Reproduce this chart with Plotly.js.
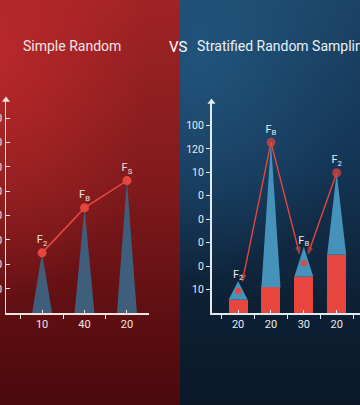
<!DOCTYPE html>
<html>
<head>
<meta charset="utf-8">
<script src="https://cdn.plot.ly/plotly-3.0.1.min.js"></script>
<style>
  html, body { margin: 0; padding: 0; width: 360px; height: 405px; overflow: hidden; }
  #wrap { position: relative; width: 360px; height: 405px; }
  #bgL { position: absolute; left: 0; top: 0; width: 180px; height: 405px;
    background:
      radial-gradient(ellipse 150px 240px at 0px 60px, rgba(205,45,45,0.6), rgba(205,45,45,0) 100%),
      linear-gradient(180deg, #a02326 0%, #811a1d 45%, #5c0e11 80%, #4a0a0c 100%); }
  #bgR { position: absolute; left: 180px; top: 0; width: 180px; height: 405px;
    background:
      radial-gradient(ellipse 160px 220px at 20px 60px, rgba(38,98,142,0.6), rgba(38,98,142,0) 100%),
      linear-gradient(180deg, #1b4466 0%, #153555 40%, #0d2034 75%, #0a1828 100%); }
  #chart { position: absolute; left: 0; top: 0; width: 360px; height: 405px; }
</style>
</head>
<body>
<div id="wrap">
  <div id="bgL"></div>
  <div id="bgR"></div>
  <div id="chart"></div>
</div>
<script>
// ---------- data ----------
const leftCats = ['10', '40', '20'];
const leftValues = [24.7, 43.2, 54.4];
const leftLabels = ['F<sub>2</sub>', 'F<sub>B</sub>', 'F<sub>S</sub>'];
const leftYTickVals = [10, 20, 30, 40, 50, 60, 70, 80];
const leftYTickText = ['10', '20', '30', '40', '50', '60', '70', '80'];

const rightCats = ['20', '20', '30', '20'];
const rightBarValues = [5.6, 11.0, 15.5, 24.8];
const rightPeakValues = [13.7, 72.8, 28.3, 59.8];
const rightInnerDots = [9.4, null, 21.2, null];
const rightLabels = ['F<sub>2</sub>', 'F<sub>B</sub>', 'F<sub>B</sub>', 'F<sub>2</sub>'];
const rightPeakDot = [false, true, false, true];
const rightYTickVals = [10, 20, 30, 40, 50, 60, 70, 80];
const rightYTickText = ['10', '0', '0', '0', '0', '10', '120', '100'];
const arrowFrom = [1, 1, 3];
const arrowTo = [0, 2, 2];

// ---------- styles ----------
const RED = '#e6463d';
const LEFT_SPIKE = '#3f5e7b';
const RIGHT_SPIKE = '#4592bb';
const LEFT_TXT = '#f3e4e4';
const RIGHT_TXT = '#e6edf4';
const LEFT_AX = '#efe2e2';
const RIGHT_AX = '#e3eaf1';
const FONT = 'Roboto, "Noto Sans", sans-serif';
const spikeHalfL = 0.235;
const barWidthR = 0.58;
const LX = [-0.85, 2.52], LY = [0, 87.5];
const RX = [-0.81, 3.71], RY = [0, 90];
const NOLINE = { width: 0 };

const traces = [];

// left spikes
leftValues.forEach((v, i) => {
  traces.push({
    type: 'scatter', mode: 'lines', xaxis: 'x', yaxis: 'y',
    x: [i - spikeHalfL, i, i + spikeHalfL, i - spikeHalfL],
    y: [0, v, 0, 0],
    fill: 'toself', fillcolor: LEFT_SPIKE, line: { width: 0, color: LEFT_SPIKE },
    hoverinfo: 'skip', showlegend: false
  });
});
// left line + points
traces.push({
  type: 'scatter', mode: 'lines+markers+text', xaxis: 'x', yaxis: 'y',
  x: leftValues.map((_, i) => i), y: leftValues,
  line: { color: RED, width: 1.6 },
  marker: { color: RED, size: 9, line: NOLINE },
  text: leftLabels, textposition: 'top center',
  textfont: { family: FONT, size: 11, color: LEFT_TXT },
  showlegend: false, hoverinfo: 'skip'
});
// left y-axis arrowhead
traces.push({
  type: 'scatter', mode: 'markers', xaxis: 'x', yaxis: 'y', cliponaxis: false,
  x: [LX[0]], y: [LY[1]],
  marker: { symbol: 'triangle-up', size: 7, color: LEFT_AX, line: NOLINE },
  showlegend: false, hoverinfo: 'skip'
});

// right bars
traces.push({
  type: 'bar', xaxis: 'x2', yaxis: 'y2',
  x: rightBarValues.map((_, i) => i), y: rightBarValues,
  width: barWidthR, marker: { color: RED, line: { width: 0 } },
  showlegend: false, hoverinfo: 'skip'
});
// right spikes on top of bars
rightBarValues.forEach((b, i) => {
  traces.push({
    type: 'scatter', mode: 'lines', xaxis: 'x2', yaxis: 'y2',
    x: [i - barWidthR / 2, i, i + barWidthR / 2, i - barWidthR / 2],
    y: [b, rightPeakValues[i], b, b],
    fill: 'toself', fillcolor: RIGHT_SPIKE, line: { width: 0, color: RIGHT_SPIKE },
    hoverinfo: 'skip', showlegend: false
  });
});
// inner dots
traces.push({
  type: 'scatter', mode: 'markers', xaxis: 'x2', yaxis: 'y2',
  x: rightInnerDots.map((_, i) => i), y: rightInnerDots,
  marker: { color: RED, size: 6, line: NOLINE }, showlegend: false, hoverinfo: 'skip'
});
// arrows (line + arrow marker at the head)
arrowFrom.forEach((f, k) => {
  const t = arrowTo[k];
  const dir = Math.sign(f - t);
  const headY = (rightInnerDots[t] != null ? rightInnerDots[t] : rightBarValues[t]) + 4;
  traces.push({
    type: 'scatter', mode: 'lines+markers', xaxis: 'x2', yaxis: 'y2',
    x: [f, t + dir * 0.13], y: [rightPeakValues[f], headY],
    line: { color: RED, width: 1.4 },
    marker: { symbol: 'arrow', angleref: 'previous', size: [0, 7], color: RED,
              line: { color: RED, width: 1 } },
    showlegend: false, hoverinfo: 'skip'
  });
});
// peak labels + peak dots
traces.push({
  type: 'scatter', mode: 'markers+text', xaxis: 'x2', yaxis: 'y2',
  x: rightPeakValues.map((_, i) => i), y: rightPeakValues,
  marker: { color: RED, size: rightPeakDot.map(d => d ? 9 : 0), line: NOLINE },
  text: rightLabels, textposition: 'top center',
  textfont: { family: FONT, size: 11, color: RIGHT_TXT },
  showlegend: false, hoverinfo: 'skip'
});
// right y-axis arrowhead
traces.push({
  type: 'scatter', mode: 'markers', xaxis: 'x2', yaxis: 'y2', cliponaxis: false,
  x: [RX[0]], y: [RY[1]],
  marker: { symbol: 'triangle-up', size: 7, color: RIGHT_AX, line: NOLINE },
  showlegend: false, hoverinfo: 'skip'
});

// titles
const annotations = [
  { xref: 'paper', yref: 'paper', x: 72 / 360, y: 1 - 46 / 405, xanchor: 'center', yanchor: 'middle',
    text: 'Simple Random', showarrow: false, font: { family: FONT, size: 14, color: '#f6e4e4' } },
  { xref: 'paper', yref: 'paper', x: 178.5 / 360, y: 1 - 47 / 405, xanchor: 'center', yanchor: 'middle',
    text: 'VS', showarrow: false, font: { family: FONT, size: 15, color: '#ffffff' } },
  { xref: 'paper', yref: 'paper', x: 195 / 360, y: 1 - 46 / 405, xanchor: 'left', yanchor: 'middle',
    text: 'Stratified Random Sampling', showarrow: false, font: { family: FONT, size: 14, color: '#e9f0f6' } }
];

const bottom = 1 - 313 / 405;

function halfSteps(n) {
  const out = [];
  for (let i = 0; i <= n; i++) out.push(i - 0.5);
  return out;
}

const layout = {
  width: 360, height: 405,
  margin: { l: 0, r: 0, t: 0, b: 0 },
  paper_bgcolor: 'rgba(0,0,0,0)', plot_bgcolor: 'rgba(0,0,0,0)',
  showlegend: false,
  font: { family: FONT },
  xaxis: {
    domain: [6 / 360, 149 / 360], range: LX,
    showgrid: false, zeroline: false, showline: true, linecolor: LEFT_AX, linewidth: 1.5,
    tickvals: leftCats.map((_, i) => i), ticktext: leftCats, ticks: 'inside', ticklen: 3, tickcolor: LEFT_AX,
    minor: { tickvals: halfSteps(leftCats.length), ticks: 'outside', ticklen: 4, tickcolor: LEFT_AX, showgrid: false },
    tickfont: { family: FONT, size: 11, color: LEFT_TXT }, fixedrange: true
  },
  yaxis: {
    domain: [bottom, 1 - 100 / 405], range: LY,
    showgrid: false, zeroline: false, showline: true, linecolor: LEFT_AX, linewidth: 1.5,
    tickvals: leftYTickVals, ticktext: leftYTickText, ticks: 'inside', ticklen: 4, tickcolor: LEFT_AX,
    tickfont: { family: FONT, size: 11, color: LEFT_TXT }, fixedrange: true
  },
  xaxis2: {
    anchor: 'y2', domain: [211.5 / 360, 1], range: RX,
    showgrid: false, zeroline: false, showline: true, linecolor: RIGHT_AX, linewidth: 1.5,
    tickvals: rightCats.map((_, i) => i), ticktext: rightCats, ticks: 'inside', ticklen: 3, tickcolor: RIGHT_AX,
    minor: { tickvals: halfSteps(rightCats.length), ticks: 'outside', ticklen: 4, tickcolor: RIGHT_AX, showgrid: false },
    tickfont: { family: FONT, size: 11, color: RIGHT_TXT }, fixedrange: true
  },
  yaxis2: {
    anchor: 'x2', domain: [bottom, 1 - 102 / 405], range: RY,
    showgrid: false, zeroline: false, showline: true, linecolor: RIGHT_AX, linewidth: 1.5,
    tickvals: rightYTickVals, ticktext: rightYTickText, ticks: 'outside', ticklen: 4, tickcolor: RIGHT_AX,
    tickfont: { family: FONT, size: 10.5, color: RIGHT_TXT }, fixedrange: true
  },
  annotations: annotations,
  bargap: 0
};

Plotly.newPlot('chart', traces, layout, { displayModeBar: false, staticPlot: true });
</script>
</body>
</html>
